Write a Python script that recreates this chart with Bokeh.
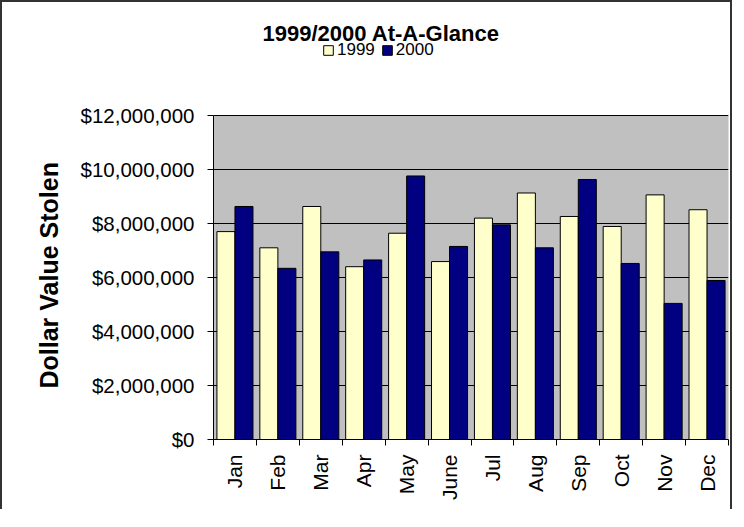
import math
from bokeh.plotting import figure
from bokeh.models import (ColumnDataSource, Range1d, FixedTicker, SingleIntervalTicker,
                          NumeralTickFormatter, Legend, LegendItem, BoxAnnotation, Title)
from bokeh.transform import dodge
from bokeh.embed import file_html
from bokeh.resources import INLINE

months = ["Jan", "Feb", "Mar", "Apr", "May", "June", "Jul", "Aug", "Sep", "Oct", "Nov", "Dec"]
values_1999 = [7700000, 7100000, 8630000, 6400000, 7640000, 6590000,
               8200000, 9130000, 8260000, 7890000, 9060000, 8510000]
values_2000 = [8630000, 6340000, 6950000, 6650000, 9760000, 7150000,
               7950000, 7100000, 9630000, 6520000, 5040000, 5890000]
series_names = ["1999", "2000"]
y_max = 12000000
y_step = 2000000

idx = list(range(len(months)))
src = ColumnDataSource(dict(x=idx, m=months, v1999=values_1999, v2000=values_2000))

FONT = "Liberation Sans"

# layout (pixels)
W, H = 732, 509
TOP, LEFT, RIGHT = 34, 211, 6
FRAME_H = 403          # frame includes the heading area so the legend sits inside it
PLOT_H = 324           # height of the grey plotting area
BOTTOM = H - TOP - FRAME_H

p = figure(width=W, height=H, output_backend="svg", toolbar_location=None,
           x_range=Range1d(-0.5, len(months) - 0.5),
           y_range=Range1d(0, y_max * FRAME_H / PLOT_H),
           min_border_left=LEFT, min_border_right=RIGHT, min_border_top=TOP,
           min_border_bottom=BOTTOM,
           background_fill_color="white", border_fill_color="white",
           title="1999/2000 At-A-Glance",
           styles={"border-left": "2px solid #333333", "border-right": "2px solid #333333",
                   "border-top": "2px solid #333333"})
p.outline_line_color = None

p.title.text_font = FONT
p.title.text_font_size = "22px"
p.title.text_font_style = "bold"
p.title.align = "left"
p.title.offset = 49
p.title.vertical_align = "bottom"
p.title.standoff = -18
p.title.text_color = "black"

# grey plot area, painted first so the grid lies over it
area = BoxAnnotation(bottom=0, top=y_max, fill_color="#C0C0C0", fill_alpha=1,
                     line_color="#808080", line_width=1, level="underlay")
p.add_layout(area)
p.center = [area] + [r for r in p.center if r is not area]

r1 = p.vbar(x=dodge("x", -0.21, range=p.x_range), top="v1999", width=0.42, source=src,
            fill_color="#FFFFCC", line_color="black", line_width=1)
r2 = p.vbar(x=dodge("x", 0.21, range=p.x_range), top="v2000", width=0.42, source=src,
            fill_color="#000080", line_color="black", line_width=1)

legend = Legend(items=[LegendItem(label=series_names[0], renderers=[r1]),
                       LegendItem(label=series_names[1], renderers=[r2])],
                orientation="horizontal", location=(109, 379),
                background_fill_alpha=0, border_line_color=None,
                glyph_width=12, glyph_height=12, label_standoff=3, spacing=6,
                padding=0, margin=0,
                label_text_font=FONT, label_text_font_size="17px",
                label_text_color="black", label_height=14)
p.add_layout(legend, "center")

# y axis title, centred on the grey plotting area
ytitle = Title(text="Dollar Value Stolen", align="left", offset=51,
               vertical_align="bottom", standoff=30,
               text_font=FONT, text_font_size="25px", text_font_style="bold",
               text_color="black")
p.add_layout(ytitle, "left")

# grid
p.xgrid.grid_line_color = None
p.ygrid.grid_line_color = "#000000"
p.ygrid.grid_line_width = 1
p.ygrid.bounds = (0, y_max)

# y axis
p.yaxis.ticker = SingleIntervalTicker(interval=y_step, num_minor_ticks=0)
p.yaxis.bounds = (0, y_max)
p.yaxis.formatter = NumeralTickFormatter(format="$0,0")
p.yaxis.major_label_text_font = FONT
p.yaxis.major_label_text_font_size = "20.5px"
p.yaxis.major_label_text_color = "black"
p.yaxis.major_label_standoff = 13
p.yaxis.major_tick_out = 6
p.yaxis.major_tick_in = 0
p.yaxis.minor_tick_line_color = None
p.yaxis.axis_line_color = "black"
p.yaxis.major_tick_line_color = "black"

# x axis: labels at category centres, tick marks at category boundaries
p.xaxis.ticker = FixedTicker(ticks=idx, minor_ticks=[i - 0.5 for i in range(len(months) + 1)])
p.xaxis.major_label_overrides = {i: m for i, m in zip(idx, months)}
p.xaxis.major_label_orientation = math.pi / 2
p.xaxis.major_label_text_font = FONT
p.xaxis.major_label_text_font_size = "21px"
p.xaxis.major_label_text_color = "black"
p.xaxis.major_label_standoff = 9
p.xaxis.major_tick_line_color = None
p.xaxis.major_tick_out = 0
p.xaxis.major_tick_in = 0
p.xaxis.minor_tick_line_color = "black"
p.xaxis.minor_tick_out = 6
p.xaxis.minor_tick_in = 0
p.xaxis.axis_line_color = "black"

open("out.html", "w").write(file_html(p, INLINE))
